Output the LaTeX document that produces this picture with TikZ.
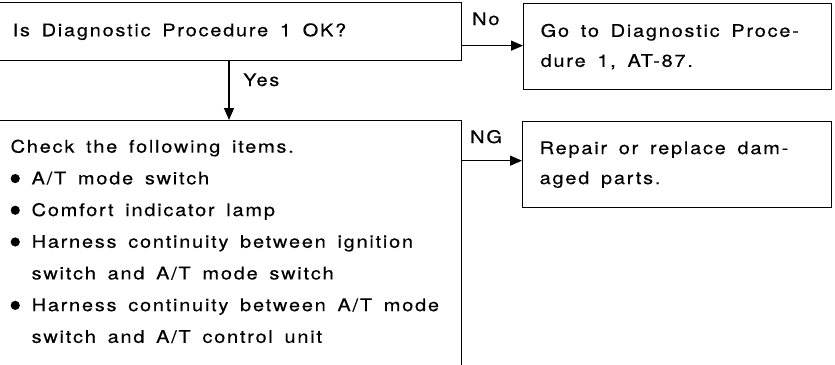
\documentclass[tikz,border=0pt]{standalone}
\usepackage{fontspec}
\setmainfont[FakeStretch=1.15,LetterSpace=10,WordSpace=1.6,FakeBold=0.35]{TeX Gyre Heros}
\usetikzlibrary{arrows.meta}
\newcommand\bltmark{\makebox[21pt][l]{\raisebox{1.2pt}{\tikz\fill (0,0) circle (4.6pt);}}}
\newcommand\boxtext[2]{\begin{minipage}{#1}\raggedright #2\end{minipage}}
\tikzset{
  box/.style={draw, line width=1.3pt, anchor=north west, inner ysep=0pt},
  conn/.style={line width=1.3pt, -{Triangle[length=12pt,width=10pt]}},
  lbl/.style={anchor=base west, inner sep=0pt}
}
\begin{document}
\begin{tikzpicture}[x=1pt,y=-1pt,font=\fontsize{17.4}{30}\selectfont]
\clip (0,0) rectangle (835,364);
\node[box, minimum width=463pt, minimum height=58pt, inner xsep=14pt] (q1) at (-2,2) {\boxtext{435pt}{Is Diagnostic Procedure 1 OK?}};
\node[box, minimum width=308pt, minimum height=86pt, inner xsep=17pt] (go) at (523,3) {\boxtext{274pt}{Go to Diagnostic Proce-\\dure 1, AT-87.}};
\node[box, inner sep=0pt] (chk) at (-2,120) {\begin{minipage}[t][260pt][t]{463pt}\fontsize{17.4}{31.7}\selectfont\vspace{19pt}\leftskip=12pt
Check the following items.\\
\bltmark A/T mode switch\\
\bltmark Comfort indicator lamp\\
\bltmark Harness continuity between ignition\\
\hspace*{21pt}switch and A/T mode switch\\
\bltmark Harness continuity between A/T mode\\
\hspace*{21pt}switch and A/T control unit
\end{minipage}};
\node[box, minimum width=309pt, minimum height=86pt, inner xsep=17pt] (rep) at (522,121) {\boxtext{275pt}{Repair or replace dam-\\aged parts.}};
\draw[conn] (go.west -| q1.east) ++(0,-1) coordinate (noS) -- (noS -| go.west);
\draw[conn] (q1.south -| 229,0) coordinate (yS) -- (yS |- chk.north);
\draw[conn] (rep.west -| chk.east) ++(0,-4) coordinate (ngS) -- (ngS -| rep.west);
\node[lbl] (no) at (472,25) {No};
\node[lbl] (yes) at (243,86) {Yes};
\node[lbl] (ng) at (470,143) {NG};
\end{tikzpicture}
\end{document}
